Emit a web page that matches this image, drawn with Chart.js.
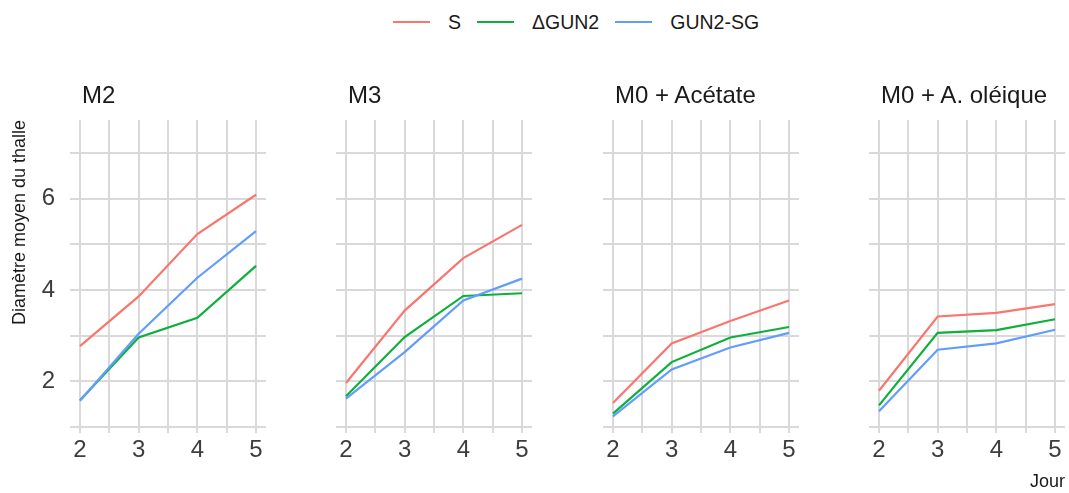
<!DOCTYPE html>
<html>
<head>
<meta charset="utf-8">
<script src="https://cdn.jsdelivr.net/npm/chart.js@4.4.1/dist/chart.umd.min.js"></script>
<style>
  html, body { margin:0; padding:0; background:#fff; }
  #wrap { position:relative; width:1069px; height:493px; overflow:hidden; font-family:"Liberation Sans", Arial, sans-serif; }
  canvas { position:absolute; top:0; }
  .ptitle { position:absolute; top:83px; font-size:24px; line-height:24px; color:#1a1a1a; white-space:nowrap; }
  #legend { position:absolute; left:393px; top:11px; height:22px; display:flex; align-items:center; font-size:19.5px; color:#1a1a1a; }
  .item { display:flex; align-items:center; margin-right:16px; }
  .sw { width:37px; height:2px; margin-right:18px; }
</style>
</head>
<body>
<div id="wrap"></div>
<script>
// ---- data ----
const days = [2, 3, 4, 5];
const xTicks = [2, 3, 4, 5];
const yTicks = [2, 4, 6];
const panels = ['M2', 'M3', 'M0 + Acétate', 'M0 + A. oléique'];
const seriesNames = ['S', 'ΔGUN2', 'GUN2-SG'];
const seriesColors = ['#F8766D', '#0CB03A', '#619CFF'];

const m2_S      = [2.77, 3.86, 5.23, 6.09];
const m2_dGUN2  = [1.58, 2.96, 3.39, 4.53];
const m2_GUN2SG = [1.57, 3.04, 4.27, 5.29];

const m3_S      = [1.96, 3.55, 4.70, 5.43];
const m3_dGUN2  = [1.67, 2.97, 3.87, 3.93];
const m3_GUN2SG = [1.62, 2.64, 3.77, 4.25];

const ac_S      = [1.52, 2.83, 3.32, 3.77];
const ac_dGUN2  = [1.29, 2.42, 2.96, 3.19];
const ac_GUN2SG = [1.23, 2.26, 2.74, 3.06];

const ol_S      = [1.79, 3.42, 3.50, 3.69];
const ol_dGUN2  = [1.47, 3.06, 3.12, 3.36];
const ol_GUN2SG = [1.34, 2.69, 2.83, 3.13];

const panelData = [
  [m2_S, m2_dGUN2, m2_GUN2SG],
  [m3_S, m3_dGUN2, m3_GUN2SG],
  [ac_S, ac_dGUN2, ac_GUN2SG],
  [ol_S, ol_dGUN2, ol_GUN2SG]
];

// ---- layout ----
const wrap = document.getElementById('wrap');
const areaLefts = [70, 336, 603, 869];
const areaW = 196;
const gridColor = '#d9d9d9';
const tickColor = '#3d3d3d';
const FONT = '"Liberation Sans", Arial, sans-serif';

// grid positions (majors + minors between)
const xGrid = [];
for (let i = 0; i < xTicks.length; i++) {
  xGrid.push(xTicks[i]);
  if (i < xTicks.length - 1) xGrid.push((xTicks[i] + xTicks[i + 1]) / 2);
}
const yGrid = [];
for (let i = 0; i < yTicks.length; i++) {
  if (i === 0) yGrid.push(yTicks[0] - 1);
  yGrid.push(yTicks[i]);
  yGrid.push(yTicks[i] + 1);
}

// legend
const leg = document.createElement('div');
leg.id = 'legend';
seriesNames.forEach((n, i) => {
  const it = document.createElement('div');
  it.className = 'item';
  const sw = document.createElement('span');
  sw.className = 'sw';
  sw.style.background = seriesColors[i];
  const tx = document.createElement('span');
  tx.textContent = n;
  it.appendChild(sw); it.appendChild(tx);
  leg.appendChild(it);
});
wrap.appendChild(leg);

panels.forEach((name, k) => {
  const padL = k === 0 ? 0 : 8;
  const axisW = k === 0 ? 70 : 0;
  const left = areaLefts[k] - axisW - padL;
  const width = axisW + padL + areaW + 4;
  const cv = document.createElement('canvas');
  cv.width = width; cv.height = 493;
  cv.style.left = left + 'px';
  cv.style.width = width + 'px'; cv.style.height = '493px';
  wrap.appendChild(cv);

  const t = document.createElement('div');
  t.className = 'ptitle';
  t.style.left = (areaLefts[k] + 12) + 'px';
  t.textContent = name;
  wrap.appendChild(t);

  const datasets = seriesNames.map((s, i) => ({
    label: s,
    data: days.map((d, j) => ({ x: d, y: panelData[k][i][j] })),
    borderColor: seriesColors[i],
    backgroundColor: seriesColors[i],
    borderWidth: 2.2,
    pointRadius: 0,
    tension: 0,
    fill: false,
    order: seriesNames.length - 1 - i
  }));

  new Chart(cv.getContext('2d'), {
    type: 'line',
    data: { datasets },
    options: {
      responsive: false,
      animation: false,
      devicePixelRatio: 1,
      layout: { padding: { top: 120, left: padL, right: 4, bottom: 0 } },
      plugins: { legend: { display: false }, tooltip: { enabled: false }, title: { display: false } },
      scales: {
        x: {
          type: 'linear',
          min: 1.83, max: 5.17,
          afterBuildTicks: (s) => { s.ticks = xGrid.map(v => ({ value: v })); },
          afterFit: (s) => { s.height = 63; },
          grid: { color: gridColor, lineWidth: 2, drawTicks: true, tickLength: 3 },
          border: { display: false },
          ticks: {
            autoSkip: false, maxRotation: 0, padding: 3,
            color: tickColor,
            font: { family: FONT, size: 24 },
            callback: (v) => xTicks.includes(v) ? String(v) : ''
          },
          title: {
            display: k === panels.length - 1,
            text: 'Jour',
            align: 'end',
            color: '#1a1a1a',
            font: { family: FONT, size: 18 },
            padding: { top: 0, bottom: 0 }
          }
        },
        y: {
          type: 'linear',
          min: 0.93, max: 7.73,
          afterBuildTicks: (s) => { s.ticks = yGrid.map(v => ({ value: v })); },
          afterFit: (s) => { s.width = axisW; },
          grid: { color: gridColor, lineWidth: 2, drawTicks: false },
          border: { display: false },
          ticks: {
            display: k === 0,
            autoSkip: false, padding: 15,
            color: tickColor,
            font: { family: FONT, size: 24 },
            callback: (v) => yTicks.includes(v) ? String(v) : ''
          },
          title: {
            display: k === 0,
            text: 'Diamètre moyen du thalle',
            align: 'end',
            color: '#1a1a1a',
            font: { family: FONT, size: 18 },
            padding: { top: 9, bottom: 0 }
          }
        }
      }
    }
  });
});
</script>
</body>
</html>
